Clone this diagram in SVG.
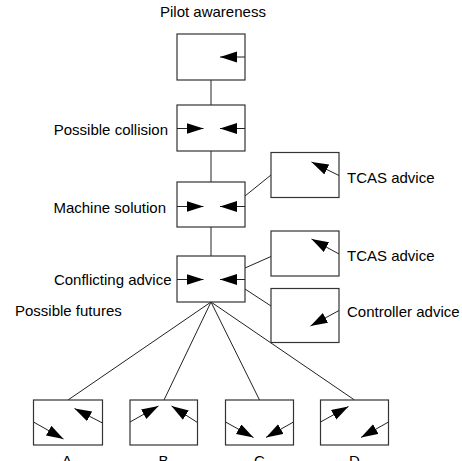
<svg xmlns="http://www.w3.org/2000/svg" width="462" height="461" viewBox="0 0 462 461">
<style>
.box{fill:#fff;stroke:#333;stroke-width:1.2}
.ln{stroke:#222;stroke-width:1;fill:none}
.ar{stroke:#222;stroke-width:1;fill:none;marker-end:url(#ah)}
text{font-family:"Liberation Sans",Arial,sans-serif;font-size:15px;fill:#000}
</style>
<defs>
<marker id="ah" markerUnits="userSpaceOnUse" markerWidth="18" markerHeight="12" refX="17" refY="5.5" orient="auto">
<path d="M0,0 L17,5.5 L0,11 z" fill="#000"/>
</marker>
</defs>
<g id="connectors">
<line class="ln" x1="211" y1="80" x2="211" y2="105"/>
<line class="ln" x1="211" y1="151" x2="211" y2="182"/>
<line class="ln" x1="211" y1="227" x2="211" y2="256"/>
<line class="ln" x1="245" y1="196" x2="271" y2="175"/>
<line class="ln" x1="245" y1="268" x2="271" y2="256.5"/>
<line class="ln" x1="245" y1="289" x2="271" y2="306"/>
<line class="ln" x1="211" y1="302" x2="68" y2="400"/>
<line class="ln" x1="211" y1="302" x2="164" y2="400"/>
<line class="ln" x1="211" y1="302" x2="259.5" y2="400"/>
<line class="ln" x1="211" y1="302" x2="354.5" y2="400"/>
</g>
<text x="160" y="17">Pilot awareness</text>
<g id="pilot">
<rect class="box" x="177" y="34" width="68" height="46"/>
<line class="ar" x1="245" y1="57" x2="220" y2="57"/>
</g>
<g id="collision">
<rect class="box" x="177" y="105" width="68" height="46"/>
<line class="ar" x1="177" y1="128.5" x2="203.5" y2="128.5"/>
<line class="ar" x1="245" y1="128.5" x2="220" y2="128.5"/>
<text x="168" y="135" text-anchor="end">Possible collision</text>
</g>
<g id="machine">
<rect class="box" x="177" y="182" width="68" height="45"/>
<line class="ar" x1="177" y1="206.5" x2="203.5" y2="206.5"/>
<line class="ar" x1="245" y1="206.5" x2="220" y2="206.5"/>
<text x="166" y="212.5" text-anchor="end">Machine solution</text>
</g>
<g id="conflicting">
<rect class="box" x="177" y="256" width="68" height="46"/>
<line class="ar" x1="177" y1="279.5" x2="203.5" y2="279.5"/>
<line class="ar" x1="245" y1="279.5" x2="220" y2="279.5"/>
<text x="171.5" y="285" text-anchor="end">Conflicting advice</text>
</g>
<g id="tcas1">
<rect class="box" x="271" y="152.5" width="68" height="45"/>
<line class="ar" x1="339" y1="175.5" x2="311.5" y2="162"/>
<text x="347" y="182.5">TCAS advice</text>
</g>
<g id="tcas2">
<rect class="box" x="271" y="231" width="68" height="45"/>
<line class="ar" x1="339" y1="254" x2="311.5" y2="239"/>
<text x="347" y="260.5">TCAS advice</text>
</g>
<g id="controller">
<rect class="box" x="271" y="288.5" width="68" height="54"/>
<line class="ar" x1="339" y1="310.5" x2="310.5" y2="326"/>
<text x="347" y="317">Controller advice</text>
</g>
<text x="15" y="316">Possible futures</text>
<g id="futureA">
<rect class="box" x="33.5" y="400" width="69" height="45"/>
<line class="ar" x1="33.5" y1="422" x2="63.5" y2="439"/>
<line class="ar" x1="102.5" y1="423" x2="74.5" y2="408.5"/>
<text x="67" y="466" text-anchor="middle">A</text>
</g>
<g id="futureB">
<rect class="box" x="130" y="400" width="67.5" height="45"/>
<line class="ar" x1="130" y1="422" x2="158.5" y2="406"/>
<line class="ar" x1="197.5" y1="422.5" x2="171.5" y2="406"/>
<text x="163.5" y="466" text-anchor="middle">B</text>
</g>
<g id="futureC">
<rect class="box" x="225.5" y="400" width="68" height="45"/>
<line class="ar" x1="225.5" y1="422" x2="253.5" y2="437.5"/>
<line class="ar" x1="293.5" y1="422" x2="266" y2="437.5"/>
<text x="259.5" y="466" text-anchor="middle">C</text>
</g>
<g id="futureD">
<rect class="box" x="320.5" y="400" width="68" height="45"/>
<line class="ar" x1="320.5" y1="422" x2="348.5" y2="406.5"/>
<line class="ar" x1="388.5" y1="422" x2="361" y2="437.5"/>
<text x="354.5" y="466" text-anchor="middle">D</text>
</g>
</svg>
